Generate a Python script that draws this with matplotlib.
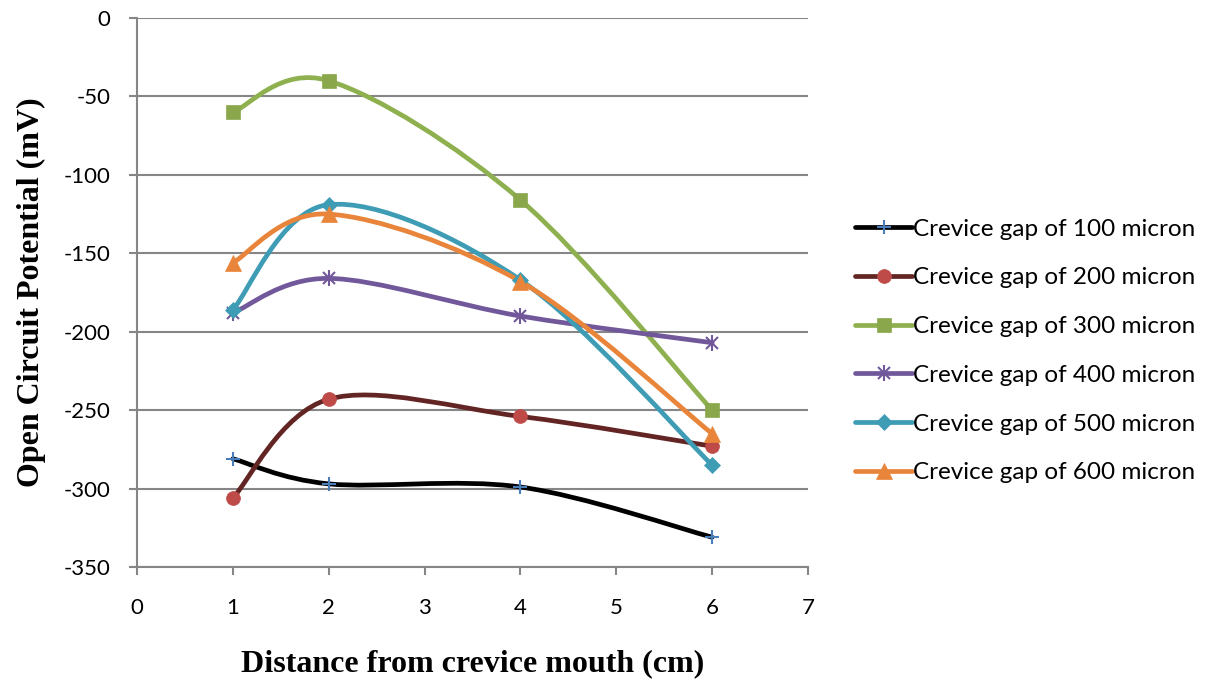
import numpy as np
import matplotlib
matplotlib.use("Agg")
import matplotlib.pyplot as plt
from matplotlib.path import Path
from matplotlib.patches import PathPatch
from matplotlib.lines import Line2D
from matplotlib.legend_handler import HandlerTuple

plt.rcParams["axes.unicode_minus"] = False

x = [1, 2, 4, 6]
gap_100 = [-281, -297, -299, -331]
gap_200 = [-306, -243, -254, -273]
gap_300 = [-60, -40, -116, -250]
gap_400 = [-188, -166, -190, -207]
gap_500 = [-186, -119, -167, -285]
gap_600 = [-156, -125, -168, -265]
labels = ["Crevice gap of 100 micron", "Crevice gap of 200 micron",
          "Crevice gap of 300 micron", "Crevice gap of 400 micron",
          "Crevice gap of 500 micron", "Crevice gap of 600 micron"]

series = [gap_100, gap_200, gap_300, gap_400, gap_500, gap_600]
line_colors = ["#000000", "#632523", "#8EB04F", "#71589A", "#3E9CB5", "#E9853A"]
marker_colors = ["#4A7EBB", "#BE4B48", "#8AA74C", "#71589A", "#3E9CB5", "#E9853A"]
# each series: list of (marker, size, edge width)
marker_specs = [
    [("+", 10, 1.5)],
    [("o", 10, 0.5)],
    [("s", 10, 0.5)],
    [("x", 8, 1.5), ("|", 11, 1.5)],
    [("D", 8, 0.5)],
    [("^", 11, 0.5)],
]

fig = plt.figure(figsize=(12.12, 6.79), dpi=100)
ax = fig.add_axes([137/1212, 1 - 567/679, (808-137)/1212, (567-18)/679])


def smooth_path(xs, ys):
    P = np.column_stack([xs, ys]).astype(float)
    n = len(P)
    verts = [P[0]]
    codes = [Path.MOVETO]
    for i in range(n - 1):
        p0 = P[i - 1] if i > 0 else P[i]
        p1 = P[i]
        p2 = P[i + 1]
        p3 = P[i + 2] if i + 2 < n else P[i + 1]
        c1 = p1 + (p2 - p0) / 6.0
        c2 = p2 - (p3 - p1) / 6.0
        verts += [c1, c2, p2]
        codes += [Path.CURVE4] * 3
    return Path(verts, codes)


handles = []
for ys, lc, mc, specs in zip(series, line_colors, marker_colors, marker_specs):
    patch = PathPatch(smooth_path(x, ys), fill=False, edgecolor=lc, lw=3.4,
                      capstyle="round", joinstyle="round", zorder=3)
    ax.add_patch(patch)
    hs = [Line2D([0], [0], color=lc, lw=3.4, solid_capstyle="round")]
    for mk, ms, mew in specs:
        ax.plot(x, ys, linestyle="none", marker=mk, markersize=ms, color=mc,
                markeredgecolor=mc, markeredgewidth=mew, zorder=4)
        hs.append(Line2D([0], [0], linestyle="none", marker=mk, markersize=ms,
                         color=mc, markeredgecolor=mc, markeredgewidth=mew))
    handles.append(tuple(hs))

ax.set_xlim(0, 7)
ax.set_ylim(-350, 0)
ax.set_xticks(range(0, 8))
ax.set_yticks(range(-350, 1, 50))
ax.grid(axis="y", color="#868686", lw=1.5)
ax.set_axisbelow(True)
for s in ["top", "right"]:
    ax.spines[s].set_visible(False)
for s in ["left", "bottom"]:
    ax.spines[s].set_color("#868686")
    ax.spines[s].set_linewidth(1.5)
ax.tick_params(axis="both", colors="#868686", width=1.5, length=6, labelsize=16,
               labelcolor="black", direction="out")
ax.tick_params(axis="x", pad=16)
ax.tick_params(axis="y", pad=13)
for lab in ax.get_xticklabels() + ax.get_yticklabels():
    lab.set_family("Lato")

ax.set_xlabel("Distance from crevice mouth (cm)", family="Liberation Serif",
              fontsize=23, fontweight="bold", labelpad=23)
ax.set_ylabel("Open Circuit Potential (mV)", family="Liberation Serif",
              fontsize=23, fontweight="bold", labelpad=13)

leg = fig.legend(handles, labels, loc="center left", bbox_to_anchor=(855/1212, 1 - 351/679),
                 frameon=False, prop={"family": "Lato", "size": 17.5}, borderpad=0,
                 borderaxespad=0,
                 handlelength=2.35, handletextpad=0.05, labelspacing=1.14,
                 handler_map={tuple: HandlerTuple(ndivide=1, pad=0)})

fig.savefig("out.png", dpi=100)
